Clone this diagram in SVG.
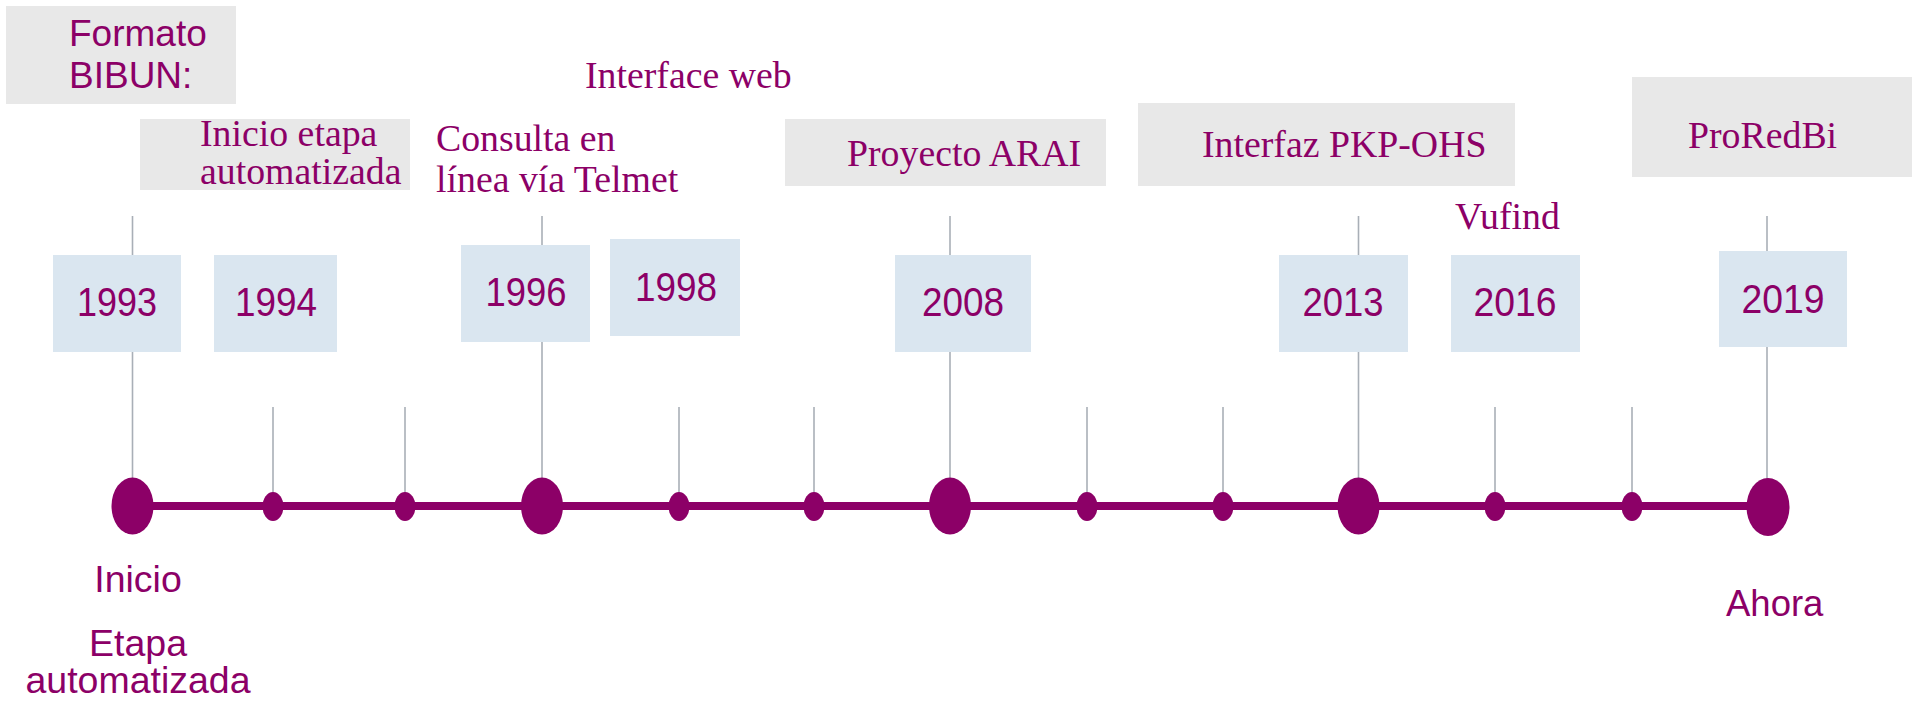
<svg xmlns="http://www.w3.org/2000/svg" width="1917" height="701" viewBox="0 0 1917 701">
<style>
.note{fill:#E8E8E8}
.yr{fill:#DAE6F0}
.sans{font-family:"Liberation Sans",Arial,sans-serif;fill:#8C0067}
.serif{font-family:"Liberation Serif","Times New Roman",serif;fill:#8C0067;font-size:37.8px}
.ytxt{font-family:"Liberation Sans",Arial,sans-serif;fill:#8C0067;font-size:40px;text-anchor:middle}
.tick{stroke:#A9AFB7;stroke-width:1.6;fill:none}
.dot{fill:#8C0067}
</style>
<rect width="1917" height="701" fill="#FFFFFF"/>
<g id="connectors">
<line class="tick" x1="132.5" y1="216" x2="132.5" y2="500"/>
<line class="tick" x1="542" y1="216" x2="542" y2="500"/>
<line class="tick" x1="950" y1="216" x2="950" y2="500"/>
<line class="tick" x1="1358.5" y1="216" x2="1358.5" y2="500"/>
<line class="tick" x1="1767" y1="216" x2="1767" y2="500"/>
<line class="tick" x1="273" y1="407" x2="273" y2="500"/>
<line class="tick" x1="405" y1="407" x2="405" y2="500"/>
<line class="tick" x1="679" y1="407" x2="679" y2="500"/>
<line class="tick" x1="814" y1="407" x2="814" y2="500"/>
<line class="tick" x1="1087" y1="407" x2="1087" y2="500"/>
<line class="tick" x1="1223" y1="407" x2="1223" y2="500"/>
<line class="tick" x1="1495" y1="407" x2="1495" y2="500"/>
<line class="tick" x1="1632" y1="407" x2="1632" y2="500"/>
<line x1="132" y1="506" x2="1767" y2="506" stroke="#8C0067" stroke-width="8"/>
</g>
<g id="dots">
<ellipse class="dot" cx="132.5" cy="506" rx="21" ry="28.5"/>
<ellipse class="dot" cx="273" cy="506.5" rx="10.5" ry="14.5"/>
<ellipse class="dot" cx="405" cy="506.5" rx="10.5" ry="14.5"/>
<ellipse class="dot" cx="542" cy="506" rx="21" ry="28.5"/>
<ellipse class="dot" cx="679" cy="506.5" rx="10.5" ry="14.5"/>
<ellipse class="dot" cx="814" cy="506.5" rx="10.5" ry="14.5"/>
<ellipse class="dot" cx="950" cy="506" rx="21" ry="28.5"/>
<ellipse class="dot" cx="1087" cy="506.5" rx="10.5" ry="14.5"/>
<ellipse class="dot" cx="1223" cy="506.5" rx="10.5" ry="14.5"/>
<ellipse class="dot" cx="1358.5" cy="506" rx="21" ry="28.5"/>
<ellipse class="dot" cx="1495" cy="506.5" rx="10.5" ry="14.5"/>
<ellipse class="dot" cx="1632" cy="506.5" rx="10.5" ry="14.5"/>
<ellipse class="dot" cx="1768" cy="507" rx="21.5" ry="29"/>
</g>
<g id="y1993"><rect class="yr" x="53" y="255" width="128" height="97"/><text class="ytxt" x="117" y="316" textLength="80" lengthAdjust="spacingAndGlyphs">1993</text></g>
<g id="y1994"><rect class="yr" x="214" y="255" width="123" height="97"/><text class="ytxt" x="276" y="316" textLength="82" lengthAdjust="spacingAndGlyphs">1994</text></g>
<g id="y1996"><rect class="yr" x="461" y="245" width="129" height="97"/><text class="ytxt" x="526" y="306" textLength="81" lengthAdjust="spacingAndGlyphs">1996</text></g>
<g id="y1998"><rect class="yr" x="610" y="239" width="130" height="97"/><text class="ytxt" x="676" y="301" textLength="82" lengthAdjust="spacingAndGlyphs">1998</text></g>
<g id="y2008"><rect class="yr" x="895" y="255" width="136" height="97"/><text class="ytxt" x="963" y="316" textLength="82" lengthAdjust="spacingAndGlyphs">2008</text></g>
<g id="y2013"><rect class="yr" x="1279" y="255" width="129" height="97"/><text class="ytxt" x="1343" y="316" textLength="81" lengthAdjust="spacingAndGlyphs">2013</text></g>
<g id="y2016"><rect class="yr" x="1451" y="255" width="129" height="97"/><text class="ytxt" x="1515" y="316" textLength="83" lengthAdjust="spacingAndGlyphs">2016</text></g>
<g id="y2019"><rect class="yr" x="1719" y="251" width="128" height="96"/><text class="ytxt" x="1783" y="313" textLength="83" lengthAdjust="spacingAndGlyphs">2019</text></g>
<g id="formato"><rect class="note" x="6" y="6" width="230" height="98"/><text class="sans" font-size="37"><tspan x="69" y="46">Formato</tspan><tspan x="69" y="88">BIBUN:</tspan></text></g>
<g id="inicio-etapa"><rect class="note" x="140" y="119" width="270" height="71"/><text class="serif"><tspan x="200" y="146">Inicio etapa</tspan><tspan x="200" y="184">automatizada</tspan></text></g>
<g id="interface-web"><text class="serif" x="585" y="88">Interface web</text></g>
<g id="consulta"><text class="serif"><tspan x="436" y="151">Consulta en</tspan><tspan x="436" y="192">línea vía Telmet</tspan></text></g>
<g id="arai"><rect class="note" x="785" y="119" width="321" height="67"/><text class="serif" x="847" y="166">Proyecto ARAI</text></g>
<g id="pkp"><rect class="note" x="1138" y="103" width="377" height="83"/><text class="serif" x="1202" y="157">Interfaz PKP-OHS</text></g>
<g id="vufind"><text class="serif" x="1455" y="229">Vufind</text></g>
<g id="proredbi"><rect class="note" x="1632" y="77" width="280" height="100"/><text class="serif" x="1688" y="148">ProRedBi</text></g>
<g id="inicio"><text class="sans" font-size="37.5" x="138" y="592" text-anchor="middle">Inicio</text></g>
<g id="etapa"><text class="sans" font-size="37.5" text-anchor="middle"><tspan x="138" y="656">Etapa</tspan><tspan x="138" y="693">automatizada</tspan></text></g>
<g id="ahora"><text class="sans" font-size="36.5" x="1726" y="616">Ahora</text></g>
</svg>
